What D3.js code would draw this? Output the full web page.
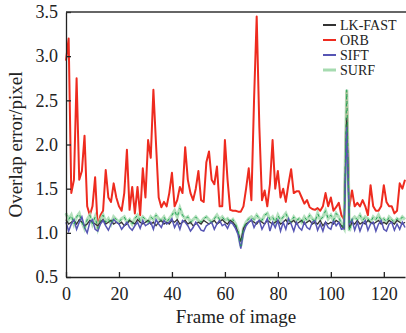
<!DOCTYPE html>
<html>
<head>
<meta charset="utf-8">
<script src="https://cdn.jsdelivr.net/npm/d3@7"></script>
<style>
  body { margin: 0; background: #fff; }
  svg { display: block; }
</style>
</head>
<body>
<div id="chart"></div>
<script>
const seriesNames = ['LK-FAST', 'ORB', 'SIFT', 'SURF'];
const seriesColors = ['#333333', '#ee2b1f', '#5655b4', '#a6dbb0'];
const xTicks = [0, 20, 40, 60, 80, 100, 120];
const yTicks = [0.5, 1.0, 1.5, 2.0, 2.5, 3.0, 3.5];

const orb = [
  2.95, 3.2, 1.45, 1.6, 2.75, 1.6, 1.7, 2.1, 1.3, 1.2,
  1.3, 1.63, 1.05, 1.2, 1.25, 1.71, 1.4, 1.35, 1.56, 1.4,
  1.3, 1.25, 1.45, 1.94, 1.26, 1.52, 1.22, 1.52, 1.2, 1.73,
  1.4, 2.05, 1.85, 2.62, 2.0, 1.4, 1.29, 1.35, 1.3, 1.45,
  1.68, 1.3, 1.37, 1.52, 1.45, 1.97, 1.6, 1.45, 1.37, 1.5,
  1.7, 1.37, 1.35, 1.8, 1.92, 1.6, 1.55, 1.75, 1.3, 1.3,
  2.05, 1.6, 1.26, 1.25, 1.25, 1.24, 1.24, 1.3, 1.5, 1.73,
  1.37, 2.5, 3.45, 2.2, 1.37, 1.48, 1.3, 1.55, 2.05, 1.5,
  1.7, 1.4, 1.5, 1.35, 1.55, 1.72, 1.45, 1.47, 1.47, 1.4,
  1.33, 1.37, 1.29, 1.27, 1.26, 1.28, 1.25, 1.3, 1.45, 1.3,
  1.4, 1.25, 1.29, 1.34, 1.2, 1.15, 2.6, 1.3, 1.48, 1.3,
  1.34, 1.3, 1.37, 1.3, 1.2, 1.54, 1.3, 1.25, 1.25, 1.3,
  1.54, 1.35, 1.3, 1.3, 1.22, 1.25, 1.56, 1.5, 1.6
];

const lkfast = [
  1.15, 1.10, 1.12, 1.14, 1.10, 1.15, 1.12, 1.08, 1.10, 1.14,
  1.12, 1.10, 1.08, 1.12, 1.15, 1.10, 1.12, 1.14, 1.10, 1.12,
  1.10, 1.12, 1.08, 1.10, 1.14, 1.12, 1.10, 1.15, 1.12, 1.10,
  1.12, 1.14, 1.10, 1.12, 1.08, 1.12, 1.14, 1.10, 1.12, 1.10,
  1.14, 1.12, 1.15, 1.10, 1.12, 1.14, 1.10, 1.12, 1.08, 1.10,
  1.12, 1.10, 1.14, 1.12, 1.10, 1.12, 1.14, 1.10, 1.12, 1.15,
  1.12, 1.10, 1.14, 1.12, 1.08, 1.00, 0.90, 1.05, 1.10, 1.12,
  1.14, 1.12, 1.10, 1.14, 1.12, 1.10, 1.14, 1.12, 1.10, 1.12,
  1.14, 1.10, 1.12, 1.15, 1.10, 1.12, 1.14, 1.10, 1.12, 1.14,
  1.10, 1.12, 1.14, 1.10, 1.12, 1.10, 1.14, 1.08, 1.12, 1.10,
  1.12, 1.10, 1.14, 1.12, 1.08, 1.05, 2.30, 1.05, 1.12, 1.10,
  1.14, 1.10, 1.12, 1.10, 1.14, 1.12, 1.10, 1.12, 1.14, 1.10,
  1.12, 1.10, 1.14, 1.12, 1.10, 1.14, 1.12, 1.10, 1.12
];

const sift = [
  1.12, 1.02, 1.10, 1.15, 1.04, 1.12, 1.18, 1.06, 1.00, 1.12,
  1.15, 1.04, 1.02, 1.10, 1.14, 1.08, 1.03, 1.10, 1.15, 1.12,
  1.10, 1.04, 1.08, 1.12, 1.06, 1.03, 1.08, 1.12, 1.05, 1.14,
  1.08, 1.10, 1.12, 1.04, 1.15, 1.10, 1.06, 1.14, 1.10, 1.12,
  1.16, 1.06, 1.12, 1.04, 1.14, 1.12, 1.08, 1.02, 1.06, 1.12,
  1.08, 1.03, 1.02, 1.08, 1.10, 1.12, 1.04, 1.10, 1.14, 1.08,
  1.10, 1.05, 1.12, 1.10, 1.05, 0.98, 0.82, 1.00, 1.08, 1.12,
  1.15, 1.06, 1.12, 1.14, 1.04, 1.10, 1.16, 1.02, 1.12, 1.06,
  1.14, 1.02, 1.12, 1.04, 1.16, 1.10, 1.02, 1.12, 1.06, 1.03,
  1.12, 1.06, 1.04, 1.12, 1.14, 1.03, 1.10, 1.02, 1.12, 1.06,
  1.04, 1.14, 1.08, 1.12, 1.04, 1.05, 2.20, 1.10, 1.15, 1.03,
  1.12, 1.02, 1.10, 1.14, 1.03, 1.10, 1.12, 1.02, 1.10, 1.14,
  1.04, 1.02, 1.10, 1.12, 1.03, 1.10, 1.04, 1.12, 1.06
];

const surf = [
  1.22, 1.15, 1.20, 1.10, 1.18, 1.22, 1.12, 1.05, 1.15, 1.20,
  1.10, 1.18, 1.05, 1.15, 1.20, 1.12, 1.16, 1.10, 1.18, 1.15,
  1.12, 1.16, 1.18, 1.12, 1.15, 1.10, 1.16, 1.20, 1.14, 1.18,
  1.15, 1.12, 1.18, 1.15, 1.20, 1.16, 1.14, 1.18, 1.12, 1.16,
  1.20, 1.25, 1.18, 1.28, 1.20, 1.16, 1.18, 1.12, 1.15, 1.18,
  1.14, 1.12, 1.16, 1.18, 1.15, 1.12, 1.16, 1.20, 1.15, 1.18,
  1.14, 1.16, 1.12, 1.15, 1.10, 1.02, 0.85, 1.05, 1.12, 1.16,
  1.18, 1.15, 1.20, 1.16, 1.14, 1.20, 1.22, 1.15, 1.18, 1.12,
  1.20, 1.14, 1.18, 1.22, 1.15, 1.12, 1.18, 1.14, 1.16, 1.12,
  1.18, 1.14, 1.20, 1.16, 1.12, 1.22, 1.15, 1.18, 1.25, 1.16,
  1.20, 1.14, 1.22, 1.18, 1.10, 1.05, 2.62, 1.02, 1.15, 1.18,
  1.15, 1.20, 1.14, 1.18, 1.16, 1.12, 1.18, 1.15, 1.20, 1.14,
  1.16, 1.12, 1.18, 1.15, 1.12, 1.16, 1.14, 1.18, 1.15
];

const width = 406;
const height = 333;
const marginLeft = 66;
const marginRight = 1;
const marginTop = 12;
const marginBottom = 56;

const svg = d3.select('#chart')
  .append('svg')
  .attr('width', width)
  .attr('height', height)
  .style('font-family', '"Liberation Serif", "Times New Roman", serif');

const x = d3.scaleLinear()
  .domain([0, 128])
  .range([marginLeft, width - marginRight]);

const y = d3.scaleLinear()
  .domain([0.5, 3.5])
  .range([height - marginBottom, marginTop]);

const line = d3.line()
  .x((d, i) => x(i))
  .y(d => y(d));

// data lines
svg.append('path')
  .datum(orb)
  .attr('fill', 'none')
  .attr('stroke', seriesColors[1])
  .attr('stroke-width', 2)
  .attr('stroke-linejoin', 'round')
  .attr('d', line);

svg.append('path')
  .datum(surf)
  .attr('fill', 'none')
  .attr('stroke', seriesColors[3])
  .attr('stroke-width', 3.2)
  .attr('stroke-opacity', 0.85)
  .attr('d', line);

svg.append('path')
  .datum(lkfast)
  .attr('fill', 'none')
  .attr('stroke', seriesColors[0])
  .attr('stroke-width', 1.3)
  .attr('d', line);

svg.append('path')
  .datum(sift)
  .attr('fill', 'none')
  .attr('stroke', seriesColors[2])
  .attr('stroke-width', 1.5)
  .attr('d', line);

svg.append('path')
  .datum(surf)
  .attr('fill', 'none')
  .attr('stroke', '#23a456')
  .attr('stroke-width', 1)
  .attr('stroke-dasharray', '3,4')
  .attr('d', line);

// axes, ticks pointing inward
svg.append('g')
  .attr('transform', `translate(0,${height - marginBottom})`)
  .call(d3.axisBottom(x).tickValues(xTicks).tickSizeInner(-5).tickSizeOuter(0).tickPadding(10).tickFormat(d3.format('d')))
  .call(g => g.select('.domain').attr('stroke', '#222').attr('stroke-width', 1.3))
  .call(g => g.selectAll('.tick line').attr('stroke', '#222').attr('stroke-width', 1.3))
  .call(g => g.selectAll('text').attr('fill', '#222').style('font-size', '18px').style('font-family', '"Liberation Serif", serif'));

svg.append('g')
  .attr('transform', `translate(${marginLeft},0)`)
  .call(d3.axisLeft(y).tickValues(yTicks).tickSizeInner(-5).tickSizeOuter(0).tickPadding(8).tickFormat(d3.format('.1f')))
  .call(g => g.select('.domain').attr('stroke', '#222').attr('stroke-width', 1.3))
  .call(g => g.selectAll('.tick line').attr('stroke', '#222').attr('stroke-width', 1.3))
  .call(g => g.selectAll('text').attr('fill', '#222').style('font-size', '18px').style('font-family', '"Liberation Serif", serif'));

svg.append('line')
  .attr('x1', marginLeft)
  .attr('x2', width)
  .attr('y1', marginTop)
  .attr('y2', marginTop)
  .attr('stroke', '#333')
  .attr('stroke-width', 1.3);

// axis titles
svg.append('text')
  .attr('x', (marginLeft + width) / 2)
  .attr('y', 323)
  .attr('text-anchor', 'middle')
  .style('font-size', '19px')
  .attr('fill', '#222')
  .text('Frame of image');

svg.append('text')
  .attr('transform', `translate(22,${(marginTop + height - marginBottom) / 2}) rotate(-90)`)
  .attr('text-anchor', 'middle')
  .style('font-size', '19px')
  .attr('fill', '#222')
  .text('Overlap error/pixel');

// legend
const legend = svg.append('g')
  .selectAll('g')
  .data(seriesNames)
  .enter().append('g')
  .attr('transform', (d, i) => `translate(323,${25 + i * 15})`);

legend.append('line')
  .attr('x1', 0)
  .attr('x2', 13)
  .attr('stroke', (d, i) => seriesColors[i])
  .attr('stroke-width', (d, i) => i === 3 ? 3 : 2);

legend.append('text')
  .attr('x', 17)
  .attr('dy', '0.35em')
  .style('font-size', '14px')
  .attr('fill', '#222')
  .text(d => d);
</script>
</body>
</html>
